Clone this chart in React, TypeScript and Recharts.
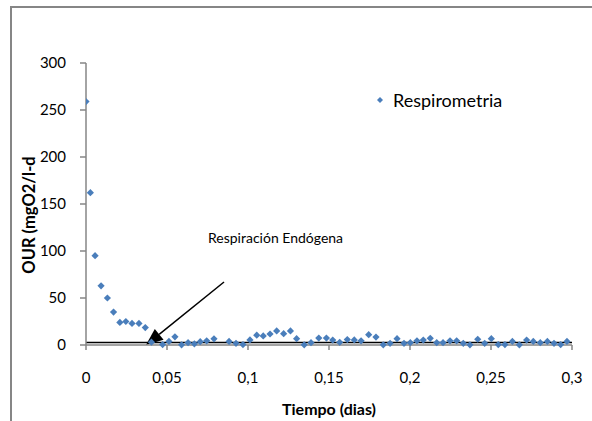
import React from "react";
import {
  ScatterChart,
  Scatter,
  XAxis,
  YAxis,
  ZAxis,
  ReferenceLine,
  ReferenceDot,
  Legend,
} from "recharts";

const TIME_DAYS = [
  0, 0.0027, 0.0056, 0.0093, 0.0132, 0.017, 0.0209, 0.0246, 0.0284, 0.0327,
  0.0366, 0.0404, 0.0473, 0.0512, 0.0549, 0.059, 0.063, 0.0669, 0.0705, 0.0745,
  0.079, 0.0883, 0.0926, 0.0969, 0.1012, 0.1054, 0.1094, 0.1136, 0.1177, 0.122,
  0.1262, 0.13, 0.1347, 0.1389, 0.1437, 0.1484, 0.1523, 0.1566, 0.1613, 0.1656,
  0.1698, 0.1745, 0.179, 0.1835, 0.1877, 0.192, 0.1963, 0.2002, 0.2043, 0.2082,
  0.2125, 0.2165, 0.2204, 0.2247, 0.2288, 0.2329, 0.237, 0.2418, 0.2461, 0.2502,
  0.2545, 0.2586, 0.2632, 0.2675, 0.272, 0.2761, 0.2804, 0.2848, 0.2889, 0.293,
  0.2969,
];

const OUR_VALUES = [
  259, 162, 95, 63, 50, 35, 24, 25, 23, 23, 18.5, 3, 0.5, 3.8, 8.7, 0.2, 2.5,
  1.2, 3.5, 4.4, 6.6, 3.8, 1.8, 0.5, 5.4, 10.4, 9.7, 11.7, 15, 12, 15, 6.7, 0.2,
  2.5, 7.4, 7.4, 5.2, 2.8, 5.8, 5.4, 4.4, 11, 8.4, 0.2, 1.8, 6.7, 1.8, 2.5, 4.4,
  5.2, 7.1, 2.5, 2.5, 4.4, 4.4, 1.8, 0.2, 6.1, 1.8, 6.7, 0.5, 0.5, 3.8, 0.2, 5.2,
  3.8, 2.5, 3.8, 1.8, 0.5, 3.8,
];

const X_TICKS = [0, 0.05, 0.1, 0.15, 0.2, 0.25, 0.3];
const Y_TICKS = [0, 50, 100, 150, 200, 250, 300];

const SERIES_NAME = "Respirometria";
const X_TITLE = "Tiempo (dias)";
const Y_TITLE = "OUR (mgO2/l-d";
const ANNOTATION_TEXT = "Respiración Endógena";

const ENDOGENOUS_LEVEL = 2.7;
const ARROW_START = { x: 0.0852, y: 67 };
const ARROW_END = { x: 0.037, y: 0 };
const ANNOTATION_ANCHOR = { x: 0.0753, y: 109 };

const data = TIME_DAYS.map((t, i) => ({ t, our: OUR_VALUES[i] }));

const FONT = "Lato, 'Open Sans', sans-serif";
const BLUE = "#4A7EBB";
const AXIS_GRAY = "#868686";

const fmt = (v: number) => String(v).replace(".", ",");

const Diamond = (props: any) => {
  const { cx, cy } = props;
  if (cx == null || cy == null) return null;
  const r = 3.6;
  return (
    <polygon
      points={`${cx},${cy - r} ${cx + r},${cy} ${cx},${cy + r} ${cx - r},${cy}`}
      fill={BLUE}
    />
  );
};

const ArrowShape = (props: any) => {
  const { x1, y1, x2, y2 } = props;
  if ([x1, y1, x2, y2].some((v) => v == null || isNaN(v))) return null;
  const dx = x2 - x1;
  const dy = y2 - y1;
  const len = Math.sqrt(dx * dx + dy * dy) || 1;
  const ux = dx / len;
  const uy = dy / len;
  const headLen = 17;
  const headHalf = 7;
  const bx = x2 - ux * headLen;
  const by = y2 - uy * headLen;
  const px = -uy;
  const py = ux;
  return (
    <g>
      <line x1={x1} y1={y1} x2={bx} y2={by} stroke="#000" strokeWidth={1.5} />
      <polygon
        points={`${x2},${y2} ${bx + px * headHalf},${by + py * headHalf} ${
          bx - px * headHalf
        },${by - py * headHalf}`}
        fill="#000"
      />
    </g>
  );
};

const AnnotationShape = (props: any) => {
  const { cx, cy } = props;
  if (cx == null || cy == null) return null;
  return (
    <text x={cx} y={cy} fontFamily={FONT} fontSize={14} fill="#000">
      {ANNOTATION_TEXT}
    </text>
  );
};

const LegendContent = (props: any) => {
  const { payload } = props;
  return (
    <div>
      {(payload || []).map((p: any) => (
        <div
          key={p.value}
          style={{ display: "flex", alignItems: "center", fontFamily: FONT }}
        >
          <svg width={12} height={12} style={{ marginRight: 7 }}>
            <polygon points="6,3 9,6 6,9 3,6" fill={BLUE} />
          </svg>
          <span style={{ fontSize: 18, color: "#000" }}>{p.value}</span>
        </div>
      ))}
    </div>
  );
};

const YTitle = (props: any) => {
  const vb = props.viewBox || {};
  const x = (vb.x ?? 0) + 35;
  const y = (vb.y ?? 0) + (vb.height ?? 0) / 2 + 11;
  return (
    <text
      x={x}
      y={y}
      transform={`rotate(-90, ${x}, ${y})`}
      textAnchor="middle"
      fontFamily={FONT}
      fontWeight="bold"
      fontSize={16.5}
      fill="#000"
    >
      {Y_TITLE}
    </text>
  );
};

const XTitle = (props: any) => {
  const vb = props.viewBox || {};
  const x = (vb.x ?? 0) + (vb.width ?? 0) / 2;
  const y = (vb.y ?? 0) + 70;
  return (
    <text
      x={x}
      y={y}
      textAnchor="middle"
      fontFamily={FONT}
      fontWeight="bold"
      fontSize={16}
      fill="#000"
    >
      {X_TITLE}
    </text>
  );
};

export default function App() {
  return (
    <div
      style={{
        position: "absolute",
        left: 0,
        top: 0,
        width: 592,
        height: 421,
        overflow: "hidden",
        background: "#fff",
      }}
    >
      <div
        style={{
          position: "absolute",
          left: 10,
          top: 6,
          width: 640,
          height: 480,
          border: `2px solid ${AXIS_GRAY}`,
          boxSizing: "border-box",
        }}
      />
      <div style={{ position: "absolute", left: 0, top: 0 }}>
        <ScatterChart
          width={592}
          height={421}
          margin={{ top: 41, right: 20, bottom: 46, left: 0 }}
        >
          <XAxis
            type="number"
            dataKey="t"
            domain={[0, 0.3]}
            ticks={X_TICKS}
            tickFormatter={fmt}
            height={30}
            stroke={AXIS_GRAY}
            strokeWidth={1.5}
            tickSize={5}
            tickMargin={22}
            tick={{ fill: "#000", fontSize: 15, fontFamily: FONT }}
            allowDataOverflow
            label={<XTitle />}
          />
          <YAxis
            type="number"
            dataKey="our"
            domain={[0, 300]}
            ticks={Y_TICKS}
            width={86}
            stroke={AXIS_GRAY}
            strokeWidth={1.5}
            tickSize={6}
            tickMargin={14}
            tick={{ fill: "#000", fontSize: 15, fontFamily: FONT }}
            label={<YTitle />}
          />
          <ZAxis range={[40, 40]} />
          <Legend
            verticalAlign="top"
            align="left"
            content={<LegendContent />}
            wrapperStyle={{ position: "absolute", left: 374, top: 89, width: 200 }}
          />
          <Scatter
            name={SERIES_NAME}
            data={data}
            fill={BLUE}
            shape={<Diamond />}
            isAnimationActive={false}
          />
          <ReferenceLine
            y={ENDOGENOUS_LEVEL}
            stroke="#000"
            strokeWidth={1.5}
          />
          <ReferenceLine
            segment={[ARROW_START, ARROW_END]}
            shape={(p: any) => <ArrowShape {...p} />}
          />
          <ReferenceDot
            x={ANNOTATION_ANCHOR.x}
            y={ANNOTATION_ANCHOR.y}
            r={0}
            shape={(p: any) => <AnnotationShape {...p} />}
          />
        </ScatterChart>
      </div>
    </div>
  );
}
